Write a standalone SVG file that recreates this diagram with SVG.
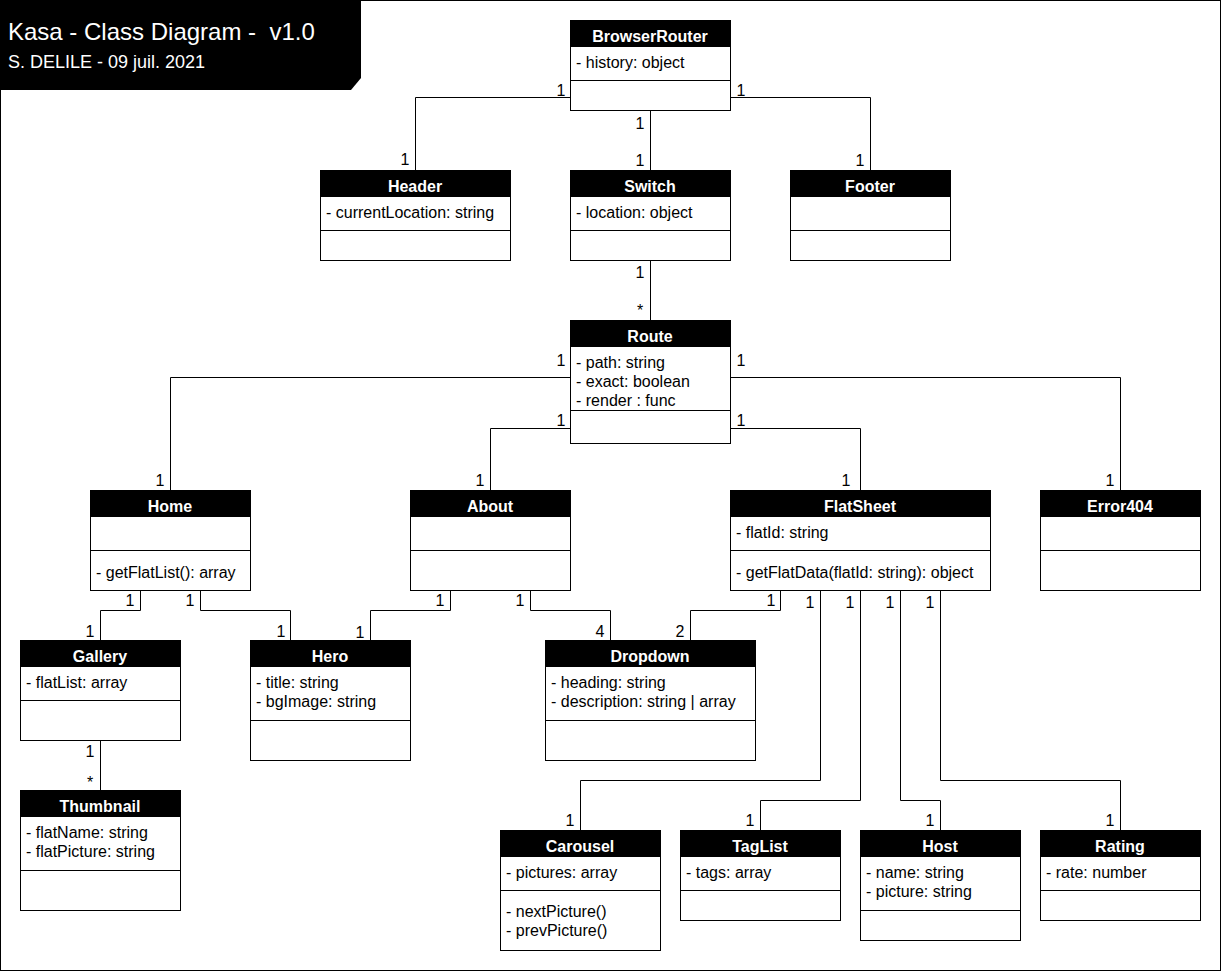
<svg xmlns="http://www.w3.org/2000/svg" width="1221" height="971" viewBox="0 0 1221 971">
<style>
.frame{fill:#fff;stroke:#000;stroke-width:1}
.box{fill:#fff;stroke:#000;stroke-width:1}
.hdr{fill:#000;stroke:#000;stroke-width:1}
.div{stroke:#000;stroke-width:1}
.name{font-family:"Liberation Sans",Arial,sans-serif;font-size:16px;font-weight:bold;fill:#fff;text-anchor:middle}
.txt{font-family:"Liberation Sans",Arial,sans-serif;font-size:16px;fill:#000}
.lbl{font-family:"Liberation Sans",Arial,sans-serif;font-size:16px;fill:#000;text-anchor:middle}
.conn path{fill:none;stroke:#000;stroke-width:1}
.ttl{font-family:"Liberation Sans",Arial,sans-serif;fill:#fff;white-space:pre}
</style>
<rect class="frame" x="0.5" y="0.5" width="1220" height="970"/>
<g id="title">
<polygon points="0,0 361,0 361,78 351,90 0,90" fill="#000"/>
<text class="ttl" x="8" y="40" font-size="24" xml:space="preserve">Kasa - Class Diagram -  v1.0</text>
<text class="ttl" x="8" y="68" font-size="18">S. DELILE - 09 juil. 2021</text>
</g>
<g class="conn" id="connectors">
<path d="M570.5,97.5 H415.5 V170.5"/>
<path d="M650.5,110.5 V170.5"/>
<path d="M730.5,97.5 H870.5 V170.5"/>
<path d="M650.5,260.5 V320.5"/>
<path d="M570.5,377.5 H170.5 V490.5"/>
<path d="M570.5,428.5 H490.5 V490.5"/>
<path d="M730.5,428.5 H860.5 V490.5"/>
<path d="M730.5,377.5 H1120.5 V490.5"/>
<path d="M140.5,590.5 V610.5 H100.5 V640.5"/>
<path d="M200.5,590.5 V610.5 H290.5 V640.5"/>
<path d="M450.5,590.5 V610.5 H370.5 V640.5"/>
<path d="M530.5,590.5 V610.5 H610.5 V640.5"/>
<path d="M780.5,590.5 V610.5 H690.5 V640.5"/>
<path d="M820.5,590.5 V780.5 H580.5 V830.5"/>
<path d="M860.5,590.5 V800.5 H760.5 V830.5"/>
<path d="M900.5,590.5 V800.5 H940.5 V830.5"/>
<path d="M940.5,590.5 V780.5 H1120.5 V830.5"/>
<path d="M100.5,740.5 V790.5"/>
</g>
<g id="labels">
<text class="lbl" x="561" y="96">1</text><text class="lbl" x="405" y="165">1</text>
<text class="lbl" x="640" y="129">1</text><text class="lbl" x="640" y="166">1</text>
<text class="lbl" x="741" y="96">1</text><text class="lbl" x="860" y="166">1</text>
<text class="lbl" x="640" y="278">1</text><text class="lbl" x="640" y="316">*</text>
<text class="lbl" x="561" y="366">1</text><text class="lbl" x="160" y="486">1</text>
<text class="lbl" x="741" y="366">1</text><text class="lbl" x="1110" y="486">1</text>
<text class="lbl" x="561" y="426">1</text><text class="lbl" x="480" y="486">1</text>
<text class="lbl" x="741" y="426">1</text><text class="lbl" x="846" y="486">1</text>
<text class="lbl" x="130" y="606">1</text><text class="lbl" x="90" y="637">1</text>
<text class="lbl" x="190" y="606">1</text><text class="lbl" x="281" y="637">1</text>
<text class="lbl" x="440" y="606">1</text><text class="lbl" x="360" y="638">1</text>
<text class="lbl" x="520" y="606">1</text><text class="lbl" x="600" y="637">4</text>
<text class="lbl" x="771" y="606">1</text><text class="lbl" x="680" y="637">2</text>
<text class="lbl" x="810" y="608">1</text><text class="lbl" x="570" y="826">1</text>
<text class="lbl" x="850" y="608">1</text><text class="lbl" x="750" y="826">1</text>
<text class="lbl" x="890" y="608">1</text><text class="lbl" x="930" y="826">1</text>
<text class="lbl" x="930" y="608">1</text><text class="lbl" x="1110" y="826">1</text>
<text class="lbl" x="90" y="757">1</text><text class="lbl" x="90" y="788">*</text>
</g>
<g id="BrowserRouter">
<rect class="box" x="570.5" y="20.5" width="160" height="90"/>
<rect class="hdr" x="570.5" y="20.5" width="160" height="26"/>
<line class="div" x1="570.5" y1="80.5" x2="730.5" y2="80.5"/>
<text class="name" x="650" y="42">BrowserRouter</text>
<text class="txt" x="576" y="68">- history: object</text>
</g>
<g id="Header">
<rect class="box" x="320.5" y="170.5" width="190" height="90"/>
<rect class="hdr" x="320.5" y="170.5" width="190" height="26"/>
<line class="div" x1="320.5" y1="230.5" x2="510.5" y2="230.5"/>
<text class="name" x="415" y="192">Header</text>
<text class="txt" x="326" y="218">- currentLocation: string</text>
</g>
<g id="Switch">
<rect class="box" x="570.5" y="170.5" width="160" height="90"/>
<rect class="hdr" x="570.5" y="170.5" width="160" height="26"/>
<line class="div" x1="570.5" y1="230.5" x2="730.5" y2="230.5"/>
<text class="name" x="650" y="192">Switch</text>
<text class="txt" x="576" y="218">- location: object</text>
</g>
<g id="Footer">
<rect class="box" x="790.5" y="170.5" width="160" height="90"/>
<rect class="hdr" x="790.5" y="170.5" width="160" height="26"/>
<line class="div" x1="790.5" y1="230.5" x2="950.5" y2="230.5"/>
<text class="name" x="870" y="192">Footer</text>
</g>
<g id="Route">
<rect class="box" x="570.5" y="320.5" width="160" height="123"/>
<rect class="hdr" x="570.5" y="320.5" width="160" height="26"/>
<line class="div" x1="570.5" y1="410.5" x2="730.5" y2="410.5"/>
<text class="name" x="650" y="342">Route</text>
<text class="txt" x="576" y="368">- path: string</text>
<text class="txt" x="576" y="387">- exact: boolean</text>
<text class="txt" x="576" y="406">- render : func</text>
</g>
<g id="Home">
<rect class="box" x="90.5" y="490.5" width="160" height="100"/>
<rect class="hdr" x="90.5" y="490.5" width="160" height="26"/>
<line class="div" x1="90.5" y1="550.5" x2="250.5" y2="550.5"/>
<text class="name" x="170" y="512">Home</text>
<text class="txt" x="96" y="578">- getFlatList(): array</text>
</g>
<g id="About">
<rect class="box" x="410.5" y="490.5" width="160" height="100"/>
<rect class="hdr" x="410.5" y="490.5" width="160" height="26"/>
<line class="div" x1="410.5" y1="550.5" x2="570.5" y2="550.5"/>
<text class="name" x="490" y="512">About</text>
</g>
<g id="FlatSheet">
<rect class="box" x="730.5" y="490.5" width="260" height="100"/>
<rect class="hdr" x="730.5" y="490.5" width="260" height="26"/>
<line class="div" x1="730.5" y1="550.5" x2="990.5" y2="550.5"/>
<text class="name" x="860" y="512">FlatSheet</text>
<text class="txt" x="736" y="538">- flatId: string</text>
<text class="txt" x="736" y="578">- getFlatData(flatId: string): object</text>
</g>
<g id="Error404">
<rect class="box" x="1040.5" y="490.5" width="160" height="100"/>
<rect class="hdr" x="1040.5" y="490.5" width="160" height="26"/>
<line class="div" x1="1040.5" y1="550.5" x2="1200.5" y2="550.5"/>
<text class="name" x="1120" y="512">Error404</text>
</g>
<g id="Gallery">
<rect class="box" x="20.5" y="640.5" width="160" height="100"/>
<rect class="hdr" x="20.5" y="640.5" width="160" height="26"/>
<line class="div" x1="20.5" y1="700.5" x2="180.5" y2="700.5"/>
<text class="name" x="100" y="662">Gallery</text>
<text class="txt" x="26" y="688">- flatList: array</text>
</g>
<g id="Hero">
<rect class="box" x="250.5" y="640.5" width="160" height="120"/>
<rect class="hdr" x="250.5" y="640.5" width="160" height="26"/>
<line class="div" x1="250.5" y1="720.5" x2="410.5" y2="720.5"/>
<text class="name" x="330" y="662">Hero</text>
<text class="txt" x="256" y="688">- title: string</text>
<text class="txt" x="256" y="707">- bgImage: string</text>
</g>
<g id="Dropdown">
<rect class="box" x="545.5" y="640.5" width="210" height="120"/>
<rect class="hdr" x="545.5" y="640.5" width="210" height="26"/>
<line class="div" x1="545.5" y1="720.5" x2="755.5" y2="720.5"/>
<text class="name" x="650" y="662">Dropdown</text>
<text class="txt" x="551" y="688">- heading: string</text>
<text class="txt" x="551" y="707">- description: string | array</text>
</g>
<g id="Thumbnail">
<rect class="box" x="20.5" y="790.5" width="160" height="120"/>
<rect class="hdr" x="20.5" y="790.5" width="160" height="26"/>
<line class="div" x1="20.5" y1="870.5" x2="180.5" y2="870.5"/>
<text class="name" x="100" y="812">Thumbnail</text>
<text class="txt" x="26" y="838">- flatName: string</text>
<text class="txt" x="26" y="857">- flatPicture: string</text>
</g>
<g id="Carousel">
<rect class="box" x="500.5" y="830.5" width="160" height="120"/>
<rect class="hdr" x="500.5" y="830.5" width="160" height="26"/>
<line class="div" x1="500.5" y1="890.5" x2="660.5" y2="890.5"/>
<text class="name" x="580" y="852">Carousel</text>
<text class="txt" x="506" y="878">- pictures: array</text>
<text class="txt" x="506" y="917">- nextPicture()</text>
<text class="txt" x="506" y="936">- prevPicture()</text>
</g>
<g id="TagList">
<rect class="box" x="680.5" y="830.5" width="160" height="90"/>
<rect class="hdr" x="680.5" y="830.5" width="160" height="26"/>
<line class="div" x1="680.5" y1="890.5" x2="840.5" y2="890.5"/>
<text class="name" x="760" y="852">TagList</text>
<text class="txt" x="686" y="878">- tags: array</text>
</g>
<g id="Host">
<rect class="box" x="860.5" y="830.5" width="160" height="110"/>
<rect class="hdr" x="860.5" y="830.5" width="160" height="26"/>
<line class="div" x1="860.5" y1="910.5" x2="1020.5" y2="910.5"/>
<text class="name" x="940" y="852">Host</text>
<text class="txt" x="866" y="878">- name: string</text>
<text class="txt" x="866" y="897">- picture: string</text>
</g>
<g id="Rating">
<rect class="box" x="1040.5" y="830.5" width="160" height="90"/>
<rect class="hdr" x="1040.5" y="830.5" width="160" height="26"/>
<line class="div" x1="1040.5" y1="890.5" x2="1200.5" y2="890.5"/>
<text class="name" x="1120" y="852">Rating</text>
<text class="txt" x="1046" y="878">- rate: number</text>
</g>
</svg>
